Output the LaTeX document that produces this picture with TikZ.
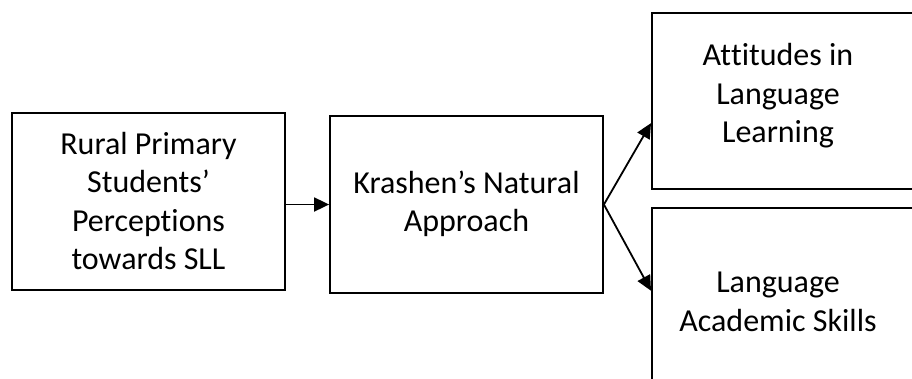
\documentclass[tikz,border=0pt]{standalone}
\usepackage{fontspec}
\setmainfont{Carlito}[Ligatures={NoCommon,NoContextual,NoRare},RawFeature={-liga;-clig;-calt;-dlig}]
\usetikzlibrary{arrows.meta,calc}
\newcommand{\nl}{\kern0pt }
\begin{document}
\begin{tikzpicture}[x=1pt,y=-1pt,
  box/.style={draw=black,line width=1.8pt,inner sep=0pt},
  lbl/.style={font=\fontsize{32}{38.5}\selectfont,align=center,inner sep=0pt},
  conn/.style={line width=1.8pt,-{Triangle[length=15pt,width=14pt]}}]
\useasboundingbox[clip] (0,0) rectangle (912,378);
\node[box,minimum width=273,minimum height=177] (b1) at (148.5,201.5) {};
\node[box,minimum width=273,minimum height=177] (b2) at (466.5,204.5) {};
\node[box,anchor=north west,minimum width=300,minimum height=176] (b3) at (651,12) {};
\node[box,anchor=north west,minimum width=300,minimum height=200] (b4) at (651,207) {};
\node[lbl] (t1) at (148.5,201) {Rural Primary\\Students’\\Percept\nl ions\\towards SLL};
\node[lbl] (t2) at (466.5,204) {Krashen’s Natural\\Approach};
\node[lbl] (t3) at (778,96) {At\nl t\nl itudes in\\Language\\Learning};
\node[lbl] (t4) at (778,302) {Language\\Academic Skills};
\draw[conn] (b1.east |- b2.west) -- (b2.west);
\draw[conn] (b2.east) -- ($(b3.south west)!0.375!(b3.north west)$);
\draw[conn] (b2.east) -- ($(b4.north west)!0.415!(b4.south west)$);
\end{tikzpicture}
\end{document}
